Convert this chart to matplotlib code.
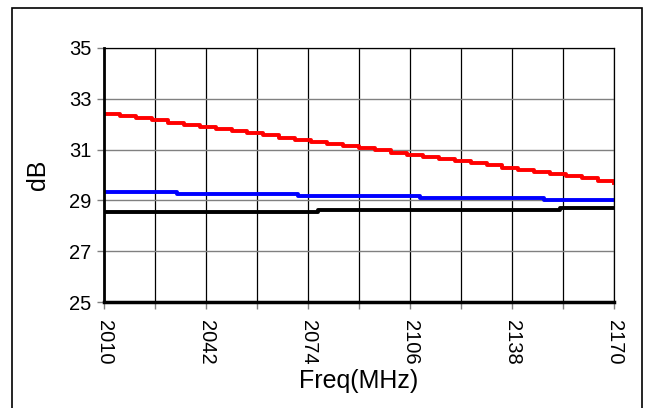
import matplotlib
matplotlib.use("Agg")
import matplotlib.pyplot as plt
from matplotlib.patches import Rectangle

plt.rcParams['font.family'] = ['Liberation Sans', 'DejaVu Sans']

# gain curves (step-like readings)
red_freq = [2010, 2015, 2020, 2025, 2030, 2035, 2040, 2045, 2050, 2055, 2060,
            2065, 2070, 2075, 2080, 2085, 2090, 2095, 2100, 2105, 2110, 2115,
            2120, 2125, 2130, 2135, 2140, 2145, 2150, 2155, 2160, 2165, 2170]
red_db = [32.40, 32.32, 32.23, 32.15, 32.06, 31.98, 31.89, 31.81, 31.73, 31.64,
          31.56, 31.47, 31.39, 31.30, 31.22, 31.13, 31.05, 30.97, 30.88, 30.80,
          30.71, 30.63, 30.54, 30.46, 30.38, 30.29, 30.21, 30.12, 30.04, 29.95,
          29.87, 29.78, 29.70]
blue_freq = [2010, 2033, 2071, 2109, 2148, 2170]
blue_db = [29.33, 29.25, 29.17, 29.08, 29.01, 29.01]
black_freq = [2010, 2077, 2153, 2170]
black_db = [28.54, 28.62, 28.70, 28.70]

xticks = [2010, 2026, 2042, 2058, 2074, 2090, 2106, 2122, 2138, 2154, 2170]
xlabels = ['2010', '', '2042', '', '2074', '', '2106', '', '2138', '', '2170']
yticks = [25, 27, 29, 31, 33, 35]

fig = plt.figure(figsize=(6.45, 4.08), dpi=100)
ax = fig.add_axes([104/645, 106/408, 510/645, 254/408])

ax.plot(red_freq, red_db, color='#ff0000', lw=2.8, drawstyle='steps-post')
ax.plot(blue_freq, blue_db, color='#0000ff', lw=2.8, drawstyle='steps-post')
ax.plot(black_freq, black_db, color='black', lw=2.8, drawstyle='steps-post')

ax.set_xlim(2010, 2170)
ax.set_ylim(25, 35)
ax.set_xticks(xticks)
ax.set_xticklabels(xlabels, rotation=-90, fontsize=14.5)
ax.set_yticks(yticks)
ax.set_yticklabels([str(v) for v in yticks], fontsize=14.5)
ax.tick_params(axis='both', direction='out', length=5, color='#808080', width=1)
ax.tick_params(axis='x', pad=8)
ax.tick_params(axis='y', pad=4)

ax.xaxis.grid(True, color='black', lw=0.9)
ax.yaxis.grid(True, color='#808080', lw=1.0)
ax.set_axisbelow(True)

ax.spines['left'].set_linewidth(2)
ax.spines['bottom'].set_linewidth(2.5)
ax.spines['top'].set_linewidth(0.9)
ax.spines['right'].set_linewidth(0.9)

ax.set_xlabel('Freq(MHz)', fontsize=18, labelpad=3)
ax.set_ylabel('dB', fontsize=18, labelpad=14)

# outer chart frame
fig.patches.append(Rectangle((12/645, -0.05), 630/645, 1.05 - 8/408,
                             transform=fig.transFigure, fill=False,
                             edgecolor='black', lw=1.2))

fig.savefig('out.png', dpi=100)
